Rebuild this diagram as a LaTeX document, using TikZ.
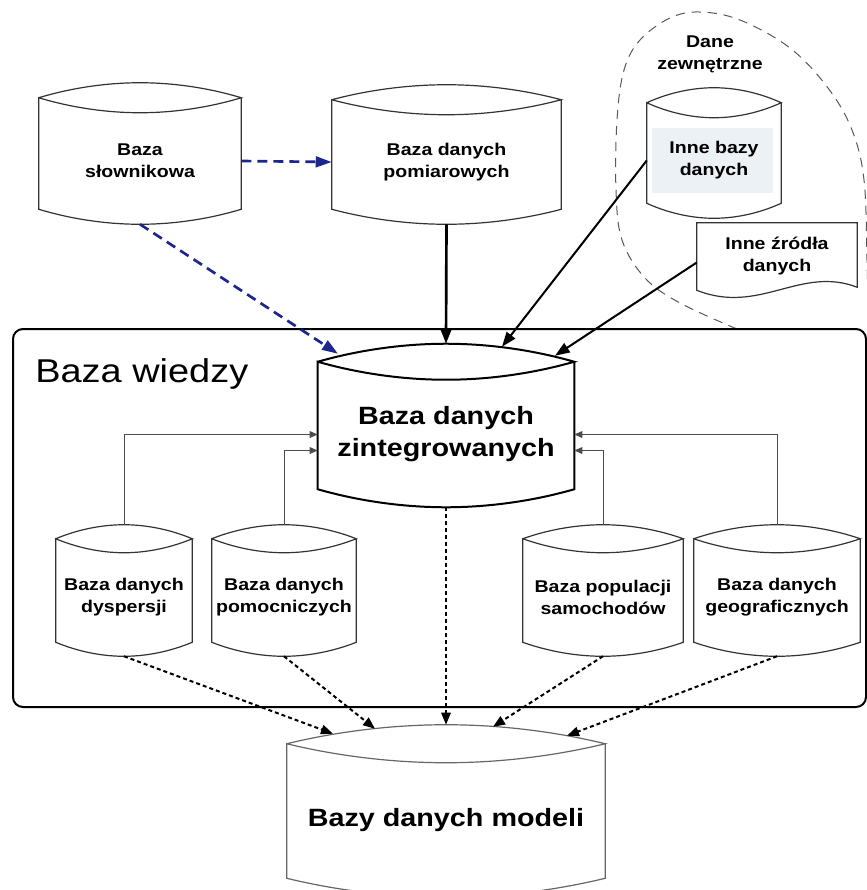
\documentclass[tikz,border=0pt]{standalone}
\usepackage{fontspec}
\setmainfont{Liberation Sans}[FakeStretch=1.15]
\usetikzlibrary{arrows.meta,calc,positioning}

\definecolor{linkblue}{RGB}{28,38,140}
\definecolor{extfill}{RGB}{236,241,246}

\tikzset{
  dbtext/.style={align=center, inner sep=0pt, font=\bfseries\fontsize{12.75pt}{16.5pt}\selectfont},
  bigtext/.style={align=center, inner sep=0pt, font=\bfseries\fontsize{18.75pt}{24pt}\selectfont},
  dbline/.style={draw=black!80, line width=0.9pt},
  mainline/.style={draw=black, line width=1.5pt},
  kbox/.style={draw=black, line width=1.5pt, rounded corners=7.5pt},
  extline/.style={draw=black!65, line width=0.75pt, dash pattern=on 7pt off 5pt},
  link/.style={draw=black, line width=1.5pt, -{Triangle[length=11pt,width=8pt]}},
  bluelink/.style={draw=linkblue, line width=2pt, dash pattern=on 7.5pt off 4.5pt,
    -{Triangle[length=12pt,width=8pt]}},
  dotlink/.style={draw=black, line width=1.5pt, dash pattern=on 3pt off 2.25pt,
    -{Triangle[length=9pt,width=7pt]}},
  feed/.style={draw=black!70, line width=0.75pt, -{Triangle[length=6pt,width=5pt]}}
}

% drum outline round a text node: style, node, bulge
\newcommand{\drum}[3][dbline]{%
  \coordinate (#2-top) at ([yshift=2*#3]#2.north);
  \coordinate (#2-bot) at ([yshift=-#3]#2.south);
  \draw[#1] ([yshift=#3]#2.north west) parabola bend (#2-top) ([yshift=#3]#2.north east)
    parabola bend (#2.north) ([yshift=#3]#2.north west)
    -- (#2.south west) parabola bend (#2-bot) (#2.south east)
    -- ([yshift=#3]#2.north east);
}

\begin{document}
\begin{tikzpicture}[x=0.75pt,y=0.75pt]
  \useasboundingbox (0,0) rectangle (867,-890);

  % external data
  \draw[extline] plot[smooth, tension=0.6] coordinates {(737,-329) (680,-303) (645,-278)
    (622,-240) (616,-190) (617,-120) (624,-70) (640,-40) (670,-18) (700,-12) (740,-20)
    (790,-48) (828,-88) (852,-130) (864,-180) (867,-260) (868,-329)};
  \node[dbtext] (extlbl) at (710,-54) {Dane\\zewnętrzne};
  \fill[extfill] (652,-128) rectangle (773,-193);
  \node[dbtext, minimum width=100.5pt, minimum height=63.75pt] (ext) at (714,-160.5) {Inne bazy\\danych};
  \drum{ext}{11.25pt}
  \node[dbtext, minimum width=120pt, minimum height=50.25pt] (src) at (777,-256.5) {Inne źródła\\danych};
  \draw[dbline] (src.north west) -- (src.north east) -- ($(src.south east)+(0,3)$)
    .. controls ($(src.south east)+(-57,25)$) and ($(src.south west)+(63,-25)$) .. (src.south west) -- cycle;

  % top sources
  \node[dbtext, minimum width=151.5pt, minimum height=72pt] (slow) at (140,-161) {Baza\\słownikowa};
  \drum{slow}{11.25pt}
  \node[dbtext, minimum width=171.75pt, minimum height=70.5pt] (pom) at (446.5,-162) {Baza danych\\pomiarowych};
  \drum{pom}{11.25pt}

  % knowledge base
  \draw[kbox] (13,-329) rectangle (866,-707);
  \node[font=\fontsize{24.75pt}{30pt}\selectfont, anchor=base west, inner sep=0pt] (kb) at (35,-382) {Baza wiedzy};
  \node[bigtext, minimum width=192pt, minimum height=81.75pt] (cen) at (446,-434.5) {Baza danych\\zintegrowanych};
  \drum[mainline]{cen}{13.5pt}
  \node[dbtext, minimum width=102pt, minimum height=66.75pt] (dys) at (124,-597.5) {Baza danych\\dyspersji};
  \drum{dys}{10.5pt}
  \node[dbtext, minimum width=108pt, minimum height=66.75pt] (aux) at (284,-597.5) {Baza danych\\pomocniczych};
  \drum{aux}{10.5pt}
  \node[dbtext, minimum width=120pt, minimum height=66.75pt] (pop) at (603,-597.5) {Baza populacji\\samochodów};
  \drum{pop}{10.5pt}
  \node[dbtext, minimum width=124.5pt, minimum height=66.75pt] (geo) at (777,-597.5) {Baza danych\\geograficznych};
  \drum{geo}{10.5pt}

  % model databases
  \node[bigtext, minimum width=238.5pt, minimum height=86.25pt] (mod) at (446,-820.5) {Bazy danych modeli};
  \drum[dbline, draw=black!60]{mod}{14.25pt}

  % connectors
  \draw[bluelink] (slow.east) -- (pom.west);
  \draw[bluelink] (slow-bot) -- ($(cen-top)+(-108,-10)$);
  \draw[link, line width=2pt] (pom-bot) -- (cen-top);
  \draw[link] (ext.west) -- ($(cen-top)+(56,-3)$);
  \draw[link] ($(src.west)+(0,-6)$) -- ($(cen-top)+(109,-12)$);

  \draw[feed] (dys-top) |- (cen.west);
  \draw[feed] (aux-top) |- ($(cen.west)+(0,-16)$);
  \draw[feed] (pop-top) |- ($(cen.east)+(0,-16)$);
  \draw[feed] (geo-top) |- (cen.east);

  \draw[dotlink] (dys-bot) -- ($(mod-top)+(-113,-9)$);
  \draw[dotlink] (aux-bot) -- ($(mod-top)+(-71,-4)$);
  \draw[dotlink] (cen-bot) -- (mod-top);
  \draw[dotlink] (pop-bot) -- ($(mod-top)+(47,-2)$);
  \draw[dotlink] (geo-bot) -- ($(mod-top)+(121,-11)$);
\end{tikzpicture}
\end{document}
